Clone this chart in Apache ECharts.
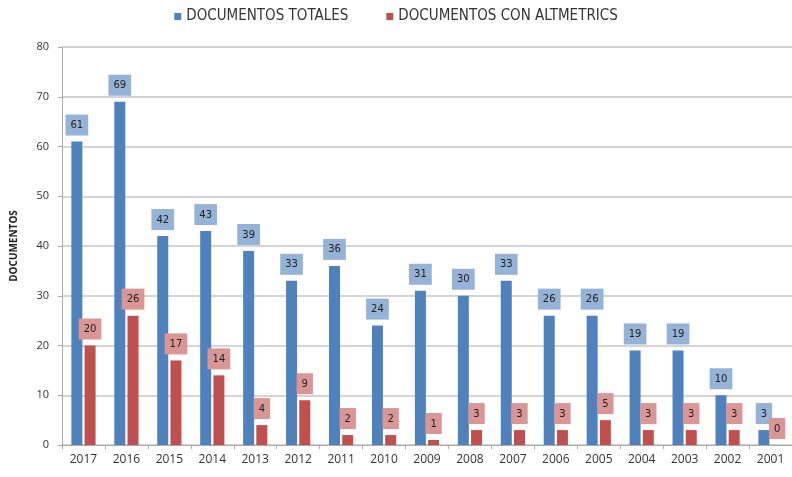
<!DOCTYPE html>
<html>
<head>
<meta charset="utf-8">
<script src="https://cdn.jsdelivr.net/npm/echarts@6/dist/echarts.min.js"></script>
<style>
  * { margin: 0; padding: 0; box-sizing: border-box; }
  body { background: #fff; }
  #chart { width: 792px; height: 477px; }
</style>
</head>
<body>
<div id="chart"></div>
<script>
  const years = ['2017', '2016', '2015', '2014', '2013', '2012', '2011', '2010', '2009',
    '2008', '2007', '2006', '2005', '2004', '2003', '2002', '2001'];
  const totales = [61, 69, 42, 43, 39, 33, 36, 24, 31, 30, 33, 26, 26, 19, 19, 10, 3];
  const altmetrics = [20, 26, 17, 14, 4, 9, 2, 2, 1, 3, 3, 3, 5, 3, 3, 3, 0];

  const myChart = echarts.init(document.getElementById('chart'));

  function boxLabel(bg) {
    return {
      show: true,
      position: 'top',
      distance: 6,
      backgroundColor: bg,
      padding: [6, 5, 5, 5],
      color: '#222',
      fontSize: 10,
      fontFamily: 'DejaVu Sans'
    };
  }

  const option = {
    animation: false,
    textStyle: { fontFamily: 'Open Sans' },
    legend: {
      top: 4,
      left: 'center',
      itemWidth: 7,
      itemHeight: 7,
      itemGap: 38,
      icon: 'rect',
      textStyle: { fontSize: 15, color: '#333', fontFamily: 'DejaVu Sans Condensed, Open Sans' },
      data: ['DOCUMENTOS TOTALES', 'DOCUMENTOS CON ALTMETRICS']
    },
    grid: {
      left: 62,
      right: 0,
      top: 47,
      bottom: 32
    },
    xAxis: {
      type: 'category',
      data: years,
      axisLine: { lineStyle: { color: '#aaa' } },
      axisTick: { show: true, length: 4, lineStyle: { color: '#aaa' } },
      axisLabel: { color: '#333', fontSize: 12, margin: 9 }
    },
    yAxis: {
      type: 'value',
      min: 0,
      max: 80,
      interval: 10,
      name: 'DOCUMENTOS',
      nameLocation: 'middle',
      nameRotate: 90,
      nameGap: 43,
      nameTextStyle: { fontSize: 10, fontWeight: 'bold', color: '#222' },
      axisLine: { show: true, lineStyle: { color: '#aaa' } },
      axisTick: { show: true, length: 4, lineStyle: { color: '#aaa' } },
      axisLabel: { color: '#333', fontSize: 11, margin: 13 },
      splitLine: { lineStyle: { color: '#c6c6c6', width: 1.5 } }
    },
    series: [
      {
        name: 'DOCUMENTOS TOTALES',
        type: 'bar',
        data: totales,
        barWidth: 11,
        barGap: '20%',
        itemStyle: { color: '#4F81BD' },
        label: boxLabel('#95B3D7')
      },
      {
        name: 'DOCUMENTOS CON ALTMETRICS',
        type: 'bar',
        data: altmetrics,
        barWidth: 11,
        itemStyle: { color: '#C0504D' },
        label: boxLabel('#DA9694')
      }
    ]
  };

  myChart.setOption(option);
</script>
</body>
</html>
